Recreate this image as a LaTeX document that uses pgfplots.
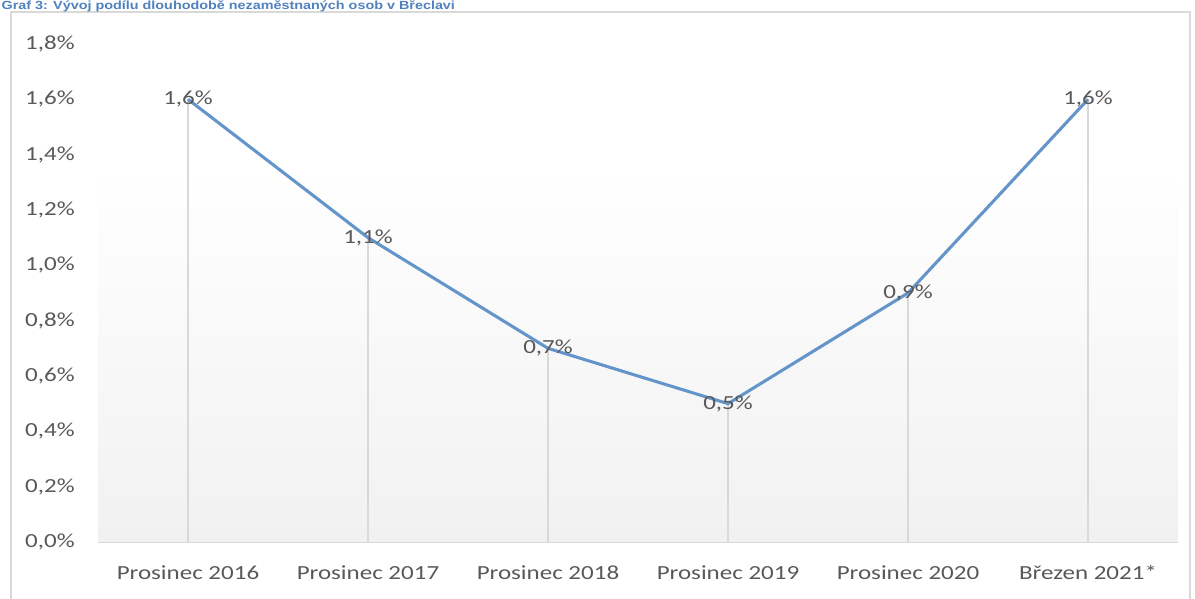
\documentclass[border=0pt]{standalone}
\usepackage{pgfplots}
\pgfplotsset{compat=1.18}
\usepackage{fontspec}
\setmainfont{Carlito}[FakeStretch=1.25]
\newfontfamily\titlefont{Liberation Sans}
\definecolor{txt}{RGB}{89,89,89}
\definecolor{ttl}{RGB}{79,129,189}
\definecolor{ln}{RGB}{100,149,202}
\definecolor{grd}{RGB}{217,217,217}
\begin{document}
\begin{tikzpicture}
\useasboundingbox (0,0) rectangle (896.25pt,449.25pt);
\draw[grd, line width=1.1pt] (8.25pt,-10pt) -- (8.25pt,440.25pt) -- (892.5pt,440.25pt) -- (892.5pt,-10pt);
\node[anchor=base west, inner sep=0pt, text=ttl] at (1pt,441.75pt) {\resizebox{340pt}{6.6pt}{\titlefont\bfseries Graf 3: Vývoj podílu dlouhodobě nezaměstnaných osob v Břeclavi}};
\begin{axis}[
  at={(73.5pt,42.75pt)}, anchor=south west, scale only axis,
  width=810pt, height=373.5pt,
  xmin=-0.5, xmax=5.5, ymin=0, ymax=1.8,
  axis x line*=bottom, axis y line*=left,
  x axis line style={grd, line width=1.1pt, -},
  y axis line style={draw=none},
  tick style={draw=none},
  xtick={0,1,2,3,4,5},
  xticklabels={Prosinec 2016,Prosinec 2017,Prosinec 2018,Prosinec 2019,Prosinec 2020,Březen 2021*},
  ytick={0,0.2,0.4,0.6,0.8,1.0,1.2,1.4,1.6,1.8},
  yticklabels={{0,0\%},{0,2\%},{0,4\%},{0,6\%},{0,8\%},{1,0\%},{1,2\%},{1,4\%},{1,6\%},{1,8\%}},
  tick label style={font=\fontsize{15pt}{18pt}\selectfont, text=txt},
  xticklabel style={anchor=base, yshift=-28pt},
  yticklabel style={anchor=east, xshift=-14pt},
  clip=false,
]
\fill[top color=white, bottom color=gray!11] (axis cs:-0.5,0) rectangle (axis cs:5.5,1.355);
\addplot[ycomb, grd, line width=0.8pt, no marks] coordinates {(0,1.6) (1,1.1) (2,0.7) (3,0.5) (4,0.9) (5,1.6)};
\addplot[ln, line width=2.3pt, no marks,
  nodes near coords, point meta=explicit symbolic,
  every node near coord/.append style={anchor=center, font=\fontsize{15pt}{18pt}\selectfont, text=txt}]
  coordinates {(0,1.6) [1,6\%] (1,1.1) [1,1\%] (2,0.7) [0,7\%] (3,0.5) [0,5\%] (4,0.9) [0,9\%] (5,1.6) [1,6\%]};
\end{axis}
\end{tikzpicture}
\end{document}
